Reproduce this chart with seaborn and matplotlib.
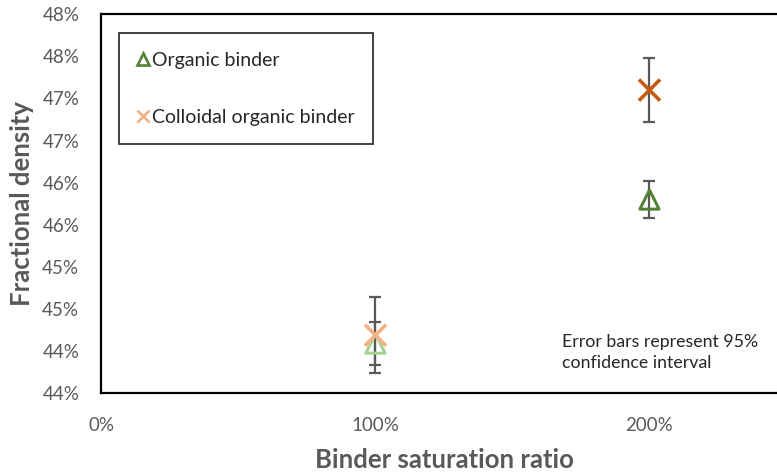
import matplotlib
matplotlib.use("Agg")
import matplotlib.pyplot as plt
from matplotlib.lines import Line2D
import seaborn as sns
import pandas as pd

# Binder saturation ratio (1.0 = 100 %)
saturation = [1.0, 2.0]

# Mean fractional density and 95 % confidence half-widths
organic_density = [0.4459, 0.4630]
organic_ci = [0.0026, 0.0022]
colloidal_density = [0.4469, 0.4760]
colloidal_ci = [0.0045, 0.0038]

# Light shade for 100 %, dark shade for 200 %
organic_colors = ["#A9D18E", "#548235"]
colloidal_colors = ["#F4B183", "#C55A11"]

y_ticks = [0.440, 0.445, 0.450, 0.455, 0.460, 0.465, 0.470, 0.475, 0.480, 0.485]
y_tick_labels = ["44%", "44%", "45%", "45%", "46%", "46%", "47%", "47%", "48%", "48%"]
x_ticks = [0, 1, 2]
x_tick_labels = ["0%", "100%", "200%"]

sns.set_style("white")
plt.rcParams["font.family"] = ["Lato", "DejaVu Sans"]

grey = "#595959"

fig = plt.figure(figsize=(7.77, 4.74), dpi=100)
ax = fig.add_axes([0.1306, 0.1703, 0.8816, 0.7996])

org = pd.DataFrame({"ratio": saturation, "density": organic_density,
                    "shade": ["light", "dark"]})
col = pd.DataFrame({"ratio": saturation, "density": colloidal_density,
                    "shade": ["light", "dark"]})

# Confidence intervals
ax.errorbar(saturation, colloidal_density, yerr=colloidal_ci, fmt="none",
            ecolor=grey, elinewidth=1.6, capsize=4.5, capthick=1.6, zorder=2)
ax.errorbar(saturation, organic_density, yerr=organic_ci, fmt="none",
            ecolor=grey, elinewidth=1.6, capsize=4.5, capthick=1.6, zorder=2)

# Organic binder: hollow triangles
sns.scatterplot(data=org, x="ratio", y="density", hue="shade",
                palette=dict(zip(["light", "dark"], organic_colors)),
                marker="^", s=190, linewidth=2.2, legend=False, ax=ax, zorder=3)
tri = ax.collections[-1]
tri.set_edgecolors(tri.get_facecolors())
tri.set_facecolors("none")

# Colloidal organic binder: crosses
sns.scatterplot(data=col, x="ratio", y="density", hue="shade",
                palette=dict(zip(["light", "dark"], colloidal_colors)),
                marker="x", s=230, linewidth=2.6, legend=False, ax=ax, zorder=3)

ax.set_xlim(0, 2.5)
ax.set_ylim(0.440, 0.485)
ax.set_xticks(x_ticks)
ax.set_xticklabels(x_tick_labels)
ax.set_yticks(y_ticks)
ax.set_yticklabels(y_tick_labels)
ax.tick_params(axis="both", length=0, labelsize=13.5, labelcolor=grey)
ax.tick_params(axis="x", pad=17)
ax.tick_params(axis="y", pad=16)

for sp in ax.spines.values():
    sp.set_visible(True)
    sp.set_color("black")
    sp.set_linewidth(1.6)

ax.set_xlabel("Binder saturation ratio", fontsize=18.5, fontweight="bold",
              color=grey, labelpad=10)
ax.set_ylabel("Fractional density", fontsize=18.5, fontweight="bold",
              color=grey, labelpad=6)

handles = [
    Line2D([], [], linestyle="none", marker="^", markersize=9,
           markerfacecolor="none", markeredgecolor=organic_colors[1],
           markeredgewidth=1.9, label="Organic binder"),
    Line2D([], [], linestyle="none", marker="x", markersize=9,
           markeredgecolor=colloidal_colors[0], markeredgewidth=1.9,
           label="Colloidal organic binder"),
]
leg = ax.legend(handles=handles, loc="upper left", bbox_to_anchor=(0.026, 0.95),
                frameon=True, fancybox=False, fontsize=14, labelspacing=2.05,
                handlelength=0.5, handletextpad=0.25, borderpad=0.95,
                borderaxespad=0)
leg.get_frame().set_edgecolor("black")
leg.get_frame().set_linewidth(1.3)

ax.text(0.672, 0.108, "Error bars represent 95%\nconfidence interval",
        transform=ax.transAxes, fontsize=12.8, color="#262626",
        va="center", ha="left", linespacing=1.4)

fig.savefig("out.png", dpi=100)
